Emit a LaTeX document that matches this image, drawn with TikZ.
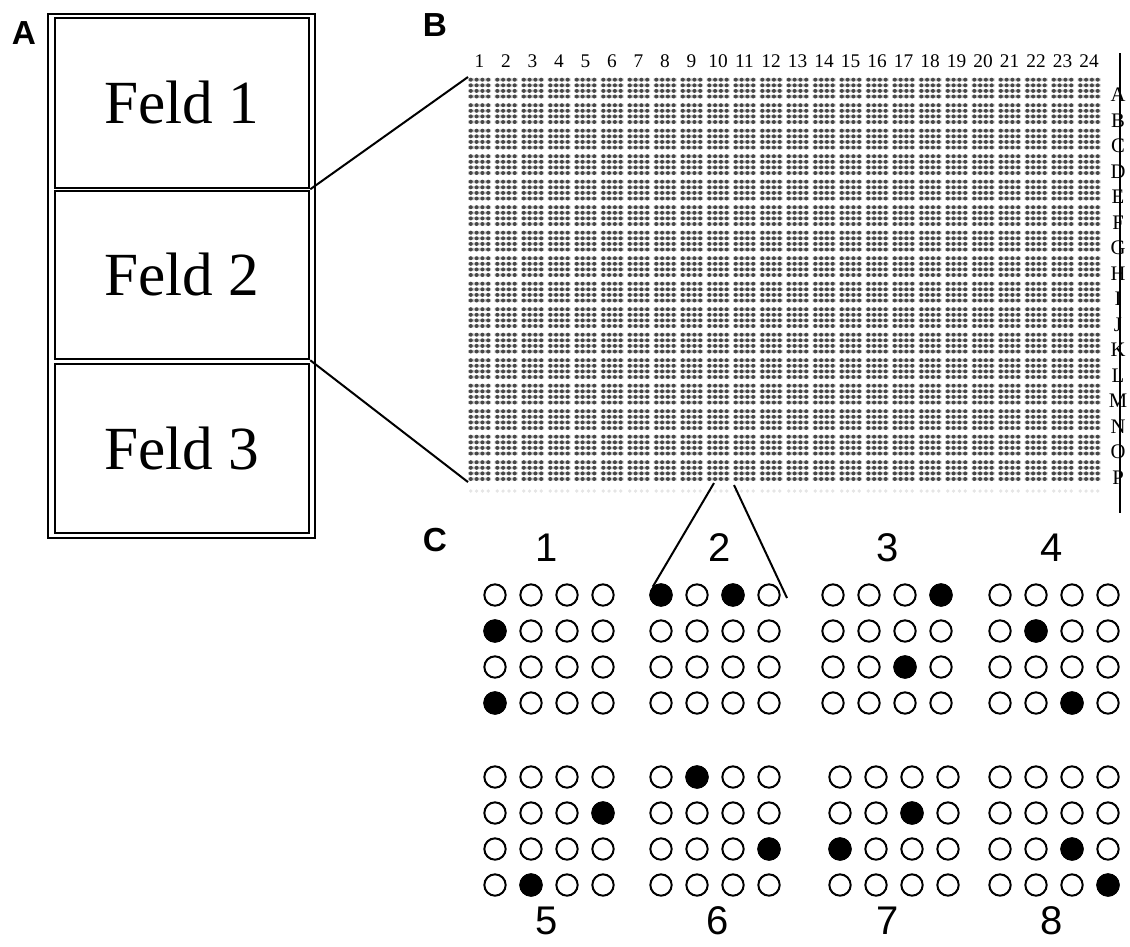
\documentclass[tikz,border=0pt]{standalone}
\usepackage{fontspec}
\setmainfont{Liberation Serif}
\newfontfamily\arialf{Liberation Sans}
\begin{document}
\begin{tikzpicture}[x=0.75pt,y=-0.75pt,
  feldbox/.style={draw, line width=1.9pt, minimum width=190.5pt, inner sep=0pt, font=\fontsize{46}{46}\selectfont},
  panel/.style={font=\arialf\bfseries\fontsize{25}{25}\selectfont},
  link/.style={line width=1.5pt},
  well/.style={circle, draw, line width=1.5pt, minimum size=16pt, inner sep=0pt},
  hit/.style={well, fill=black},
  setno/.style={font=\arialf\fontsize{30}{30}\selectfont},
  colno/.style={font=\fontsize{14.5}{14.5}\selectfont, inner sep=0pt},
  rowno/.style={font=\fontsize{15.5}{15.5}\selectfont, inner sep=0pt}]
\useasboundingbox (0,0) rectangle (1130,946);

% ---------------- panel A: the three fields ----------------
\node[panel] (labA) at (24,33) {A};
\draw[line width=1.5pt] (48,14) rectangle (315,538);
\node[feldbox, minimum height=127.5pt] (feld1) at (182,103) {Feld 1};
\node[feldbox, minimum height=126pt]   (feld2) at (182,275) {Feld 2};
\node[feldbox, minimum height=126.75pt] (feld3) at (182,448.5) {Feld 3};

% ---------------- panel B: 384-block plate ----------------
\node[panel] (labB) at (435,25) {B};
\node[inner sep=0pt, minimum width=474.4pt, minimum height=303.4pt, anchor=north west] (grid) at (468,77) {};
\foreach \c in {0,...,23}{
  \foreach \r in {0,...,15}{
    \pgfmathsetmacro\bx{468+26.5*\c}
    \pgfmathsetmacro\by{77+25.5*\r}
    \fill[black!22] \foreach \j in {0,...,3}{ (\bx,\by+1.4+5.6*\j) rectangle (\bx+23,\by+4.0+5.6*\j) };
    \fill[black!72] \foreach \i in {0,...,3}{ \foreach \j in {0,...,3}{ (\bx+2.8+5.8*\i,\by+2.7+5.6*\j) circle[radius=1.5pt] } };
  }
  \pgfmathsetmacro\bx{468+26.5*\c}
  \fill[black!10] \foreach \i in {0,...,3}{ (\bx+2.8+5.8*\i,491) circle[radius=1.4pt] };
}
% column numbers
\foreach \c in {1,...,24}{
  \node[colno] (col\c) at ({479.5+26.5*(\c-1)},61) {\c};
}
% row letters and the rule through them
\foreach \l [count=\k from 0] in {A,B,C,D,E,F,G,H,I,J,K,L,M,N,O,P}{
  \node[rowno] (row\l) at (1118,{95+25.5*\k}) {\l};
}
\coordinate (ruletop) at (1120,53);
\coordinate (rulebot) at (1120,513);
\draw[line width=2pt] (ruletop) -- (rulebot);

% fields to plate
\draw[link] (feld1.south east) -- (grid.north west);
\draw[link] (feld2.south east) -- (grid.south west);

% ---------------- panel C: eight 4x4 patterns ----------------
\node[panel] (labC) at (435,540) {C};
\foreach \g/\gx/\gy in {1/495/595, 2/661/595, 3/833/595, 4/1000/595,
                        5/495/777, 6/661/777, 7/840/777, 8/1000/777}{
  \foreach \r in {1,...,4}{
    \foreach \c in {1,...,4}{
      \node[well] (g\g-\r-\c) at ({\gx+36*(\c-1)},{\gy+36*(\r-1)}) {};
    }
  }
}
\foreach \g/\r/\c in {1/2/1, 1/4/1, 2/1/1, 2/1/3, 3/1/4, 3/3/3, 4/2/2, 4/4/3,
                      5/2/4, 5/4/2, 6/1/2, 6/3/4, 7/2/3, 7/3/1, 8/3/3, 8/4/4}{
  \node[hit] at (g\g-\r-\c) {};
}
\node[setno] (n1) at (547,548) {1};
\node[setno] (n2) at (720,548) {2};
\node[setno] (n3) at (888,548) {3};
\node[setno] (n4) at (1052,548) {4};
\node[setno] (n5) at (547,921) {5};
\node[setno] (n6) at (718,921) {6};
\node[setno] (n7) at (888,921) {7};
\node[setno] (n8) at (1052,921) {8};

% plate position to pattern 2
\coordinate (tailL) at (714,483);
\coordinate (tailR) at (734,485);
\coordinate (headR) at (787,598);
\draw[link] (tailL) -- (g2-1-1.north west);
\draw[link] (tailR) -- (headR);
\end{tikzpicture}
\end{document}
